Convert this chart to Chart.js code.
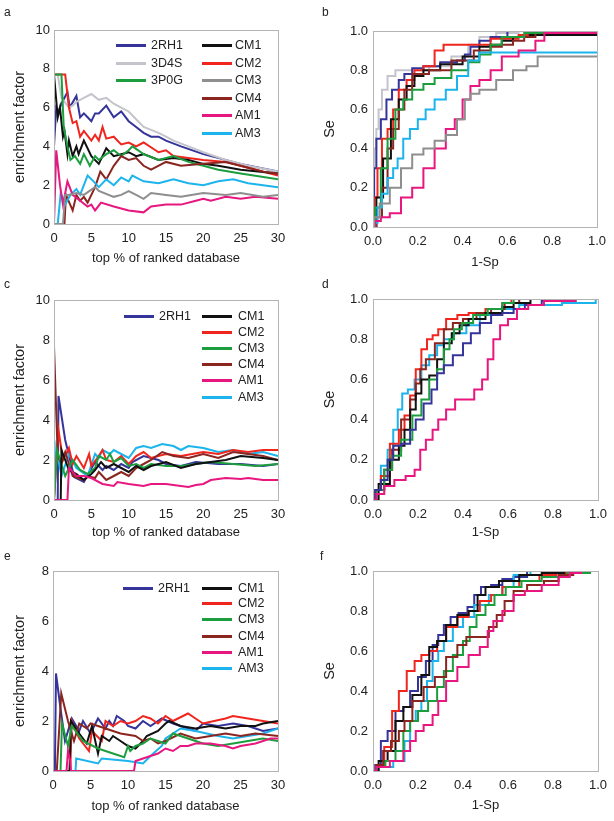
<!DOCTYPE html>
<html>
<head>
<meta charset="utf-8">
<script src="https://cdn.jsdelivr.net/npm/chart.js@4/dist/chart.umd.min.js"></script>
<style>
  body { margin: 0; background: #fff; font-family: 'Liberation Sans', Arial, sans-serif; }
  #fig { position: relative; width: 614px; height: 821px; overflow: hidden; }
  canvas { position: absolute; }
  .lbl { position: absolute; font-size: 12px; color: #222; }
  .leg { position: absolute; font-size: 12.5px; color: #222; line-height: 14px; white-space: nowrap; }
  .sw { position: absolute; height: 3px; }
</style>
</head>
<body>
<div id="fig">
  <canvas id="ca" width="300" height="270" style="left:0;top:0"></canvas>
  <canvas id="cb" width="314" height="270" style="left:300px;top:0"></canvas>
  <canvas id="cc" width="300" height="270" style="left:0;top:270px"></canvas>
  <canvas id="cd" width="314" height="270" style="left:300px;top:270px"></canvas>
  <canvas id="ce" width="300" height="281" style="left:0;top:540px"></canvas>
  <canvas id="cf" width="314" height="281" style="left:300px;top:540px"></canvas>
  <div class="lbl" style="left:4px;top:5px">a</div>
  <div class="lbl" style="left:322px;top:5px">b</div>
  <div class="lbl" style="left:4px;top:277px">c</div>
  <div class="lbl" style="left:322px;top:277px">d</div>
  <div class="lbl" style="left:4px;top:549px">e</div>
  <div class="lbl" style="left:320px;top:549px">f</div>
</div>
<script>
// series colours (panels c-f draw CM3 in green)
const COLORS = {
  '2RH1': '#34349a', '3D4S': '#c4c4cc', '3P0G': '#1c9e3f', 'CM1': '#111111',
  'CM2': '#f0261e', 'CM3': '#8e8e8e', 'CM4': '#8b2520', 'AM1': '#e8177f', 'AM3': '#1bb4ec'
};
const COLORS_LOWER = Object.assign({}, COLORS, { 'CM3': '#1c9e3f' });

// tick labels
const EF_TICKS_X = [0, 5, 10, 15, 20, 25, 30];
const EF_TICKS_Y10 = [0, 2, 4, 6, 8, 10];
const EF_TICKS_Y8 = [0, 2, 4, 6, 8];
const ROC_TICKS = [0, 0.2, 0.4, 0.6, 0.8, 1.0];

// panel a: enrichment factor, top % of ranked database
const A_2RH1 = [[0,4],[0.3,6],[0.6,5.8],[1,6.2],[1.8,6.8],[2.1,6],[3,6.6],[3.5,5.5],[4,5.7],[4.5,5.5],[5,5.3],[5.5,5.7],[6,5.7],[7,6.1],[8,5.5],[9,5.8],[10,5.3],[11,5],[12,4.7],[13,4.5],[14,4.5],[15,4.3],[17,4],[20,3.6],[25,3.1],[30,2.7]];
const A_3D4S = [[0,7.7],[0.5,7.7],[1,6.5],[2,6],[2.5,6.1],[3,6.3],[4,6.5],[5,6.7],[6,6.4],[7,6.5],[8,6.2],[9,6],[10,5.8],[11,5.4],[12,5],[14,4.7],[15,4.5],[16,4.3],[18,4],[20,3.7],[23,3.3],[26,3],[30,2.7]];
const A_3P0G = [[0,7.7],[1,7.7],[1.3,5],[1.8,4],[2.2,3.3],[2.8,3.5],[3.5,3.1],[4,3.6],[4.8,3],[5.5,3.5],[6,3.3],[7,3.6],[8,3.8],[9,3.5],[10,3.8],[10.5,4],[12,3.6],[14,3.3],[16,3.5],[18,3.2],[20,3],[22,2.8],[25,2.6],[30,2.3]];
const A_CM1 = [[0,7.7],[0.5,5.5],[0.8,6],[1.2,4.5],[1.4,4.8],[1.8,3.6],[2,4.3],[2.5,3.5],[3,4],[3.3,3.6],[4,4.3],[5,3.5],[6,3.1],[7,3.9],[8,3.5],[9,3.6],[10,3.7],[11,3.5],[12,3.6],[14,3.3],[16,3.4],[18,3.3],[20,3.1],[22,3],[25,2.8],[30,2.6]];
const A_CM2 = [[0,7.7],[1.5,7.7],[2,6],[2.5,5.2],[3,5.3],[3.5,4.5],[4,4.8],[5,4.3],[5.5,4.6],[6,4.3],[6.5,5],[7,4.4],[8,4.5],[9,4.1],[10,4.2],[11,4],[12,4.2],[14,3.7],[15,3.8],[16,3.5],[18,3.4],[20,3.3],[23,3.2],[25,3],[30,2.5]];
const A_CM3 = [[0,0],[1.2,0],[1.5,1.5],[2,1.5],[3,1.6],[4,1.5],[5.5,1.9],[6,1.7],[8,1.4],[9,1.5],[10,1.7],[11,1.5],[12,1.3],[13,1.6],[15,1.5],[17,1.4],[20,1.6],[23,1.5],[25,1.6],[28,1.4],[30,1.5]];
const A_CM4 = [[0,0],[1.4,0],[1.6,1.5],[2.5,0.7],[3,1.5],[3.5,1.2],[4,1.4],[4.5,1.1],[5.5,1.9],[6.2,2.7],[7,2.3],[8,3],[9,3.5],[10,3.3],[11,3.4],[12,3],[13,2.8],[15,3.2],[17,3],[20,3.1],[23,3.2],[26,2.9],[28,2.7],[30,2.6]];
const A_AM1 = [[0,0],[0.3,3.8],[0.8,2],[1.2,1],[1.8,2.2],[2.5,1.5],[3.5,1.2],[4.5,0.9],[5,1],[5.5,0.7],[6.3,1.1],[8,0.9],[10,0.7],[12,0.6],[13,0.9],[15,1],[17,1],[19,1.2],[20,1.3],[21,1.2],[23,1.4],[25,1.3],[27,1.4],[30,1.3]];
const A_AM3 = [[0,0],[0.5,0],[0.9,1.6],[1.5,1],[2.2,1.5],[3,1.8],[3.5,1.5],[4,2],[4.5,2.5],[5.3,2.2],[6,1.9],[7,2.3],[8,2],[9,2.4],[10,2.2],[10.5,2.5],[12,2.2],[14,2.1],[16,2.3],[18,2.1],[20,2],[22,2.2],[24,2.3],[26,2.1],[28,2],[30,1.9]];

// panel b: ROC, 1-Sp vs Se
const B_2RH1 = [[0,0],[0.01,0.3],[0.02,0.45],[0.05,0.55],[0.07,0.65],[0.1,0.7],[0.13,0.75],[0.15,0.78],[0.2,0.81],[0.25,0.82],[0.35,0.84],[0.4,0.85],[0.42,0.88],[0.45,0.92],[0.5,0.95],[0.55,0.97],[0.65,1],[1,1]];
const B_3D4S = [[0,0],[0.01,0.4],[0.02,0.5],[0.03,0.6],[0.05,0.7],[0.08,0.77],[0.12,0.8],[0.2,0.8],[0.3,0.82],[0.4,0.87],[0.45,0.93],[0.5,0.97],[0.6,0.99],[0.7,1],[1,1]];
const B_3P0G = [[0,0],[0.02,0.1],[0.05,0.3],[0.08,0.45],[0.12,0.6],[0.15,0.65],[0.2,0.7],[0.25,0.73],[0.3,0.76],[0.4,0.8],[0.45,0.84],[0.5,0.88],[0.55,0.93],[0.6,0.97],[0.75,0.99],[1,1]];
const B_CM1 = [[0,0],[0.03,0.15],[0.06,0.35],[0.1,0.55],[0.13,0.65],[0.17,0.72],[0.2,0.77],[0.25,0.8],[0.35,0.83],[0.45,0.87],[0.5,0.92],[0.55,0.93],[0.6,0.95],[0.65,0.97],[0.75,0.98],[1,0.98]];
const B_CM2 = [[0,0],[0.01,0.15],[0.03,0.3],[0.05,0.45],[0.08,0.5],[0.1,0.6],[0.13,0.7],[0.17,0.75],[0.2,0.8],[0.25,0.82],[0.3,0.9],[0.33,0.93],[0.45,0.93],[0.6,0.96],[0.7,0.98],[1,0.98]];
const B_CM3 = [[0,0],[0.01,0.05],[0.05,0.12],[0.1,0.2],[0.15,0.3],[0.2,0.37],[0.25,0.4],[0.3,0.44],[0.35,0.47],[0.4,0.55],[0.42,0.65],[0.45,0.68],[0.5,0.7],[0.6,0.75],[0.65,0.8],[0.72,0.82],[0.75,0.87],[1,0.87]];
const B_CM4 = [[0,0],[0.03,0.05],[0.05,0.2],[0.08,0.4],[0.1,0.5],[0.13,0.6],[0.15,0.7],[0.2,0.78],[0.3,0.8],[0.4,0.85],[0.5,0.9],[0.55,0.92],[0.6,0.93],[0.65,0.95],[0.7,0.97],[0.75,0.99],[1,0.99]];
const B_AM1 = [[0,0],[0.02,0.03],[0.05,0.05],[0.1,0.07],[0.15,0.15],[0.2,0.2],[0.25,0.3],[0.3,0.4],[0.35,0.5],[0.38,0.55],[0.42,0.65],[0.45,0.72],[0.5,0.75],[0.55,0.8],[0.6,0.87],[0.7,0.9],[0.75,0.95],[0.78,0.99],[1,0.99]];
const B_AM3 = [[0,0],[0.01,0.02],[0.03,0.1],[0.05,0.17],[0.08,0.25],[0.1,0.3],[0.12,0.35],[0.15,0.45],[0.18,0.5],[0.22,0.55],[0.25,0.6],[0.3,0.65],[0.35,0.7],[0.4,0.77],[0.45,0.85],[0.5,0.89],[1,0.89]];

// panel c
const C_2RH1 = [[0,0],[0.5,0],[0.6,5.2],[1.5,3],[2.7,1.15],[4,0.9],[5.5,1.9],[6.5,1.5],[7,1.7],[8,1.5],[9,1.8],[10,1.6],[10.5,1.9],[12,2.2],[14,2],[15,1.8],[17,1.7],[19,1.9],[22,1.8],[25,1.8],[28,1.7],[30,1.8]];
const C_CM1 = [[0,0],[0.9,0],[1,2.5],[2,1.5],[3,1.3],[4,1],[5,1.3],[5.5,1.5],[6.3,1.9],[7,1.6],[8,1.8],[10,1.4],[11,1.7],[12,1.5],[13,1.7],[15,1.9],[17,1.6],[19,1.8],[21,1.9],[23,2],[25,2.2],[28,2.1],[30,2]];
const C_CM2 = [[0,0],[0.6,3.5],[1.2,2],[2,2.6],[2.5,1.8],[3,2.2],[4,1.6],[4.7,2.3],[5,1.7],[6,2.2],[6.5,2.5],[7,2],[8,1.9],[9,2.2],[10,1.8],[11,2.2],[12,2.4],[13,2.1],[15,2.3],[17,2.2],[20,2.4],[22,2.3],[24,2.5],[26,2.4],[28,2.5],[30,2.5]];
const C_CM3 = [[0,0],[0.4,2.5],[1.5,1.2],[2.5,2],[3.5,1.5],[4.5,1.3],[5.5,1.6],[6,2.2],[7,2],[7.5,2.3],[8,1.9],[9,2.1],[10,1.7],[11,1.8],[12,1.6],[13,1.8],[15,1.7],[17,1.7],[19,1.8],[21,1.9],[24,1.8],[27,1.7],[30,1.8]];
const C_CM4 = [[0,7.7],[0.5,2.2],[1,1.8],[1.5,2.4],[2.5,1.2],[4,1],[4.5,1.2],[5.5,1.1],[6,1.4],[7,1],[8,1.2],[9,1.4],[10,1.2],[11,1.6],[12,1.8],[13,2],[14.5,2.4],[16,2.2],[18,2.1],[20,2.3],[22,2.1],[24,2.4],[26,2.3],[28,2.2],[30,2]];
const C_AM1 = [[0,0],[1.8,0],[2,1.6],[3,1.2],[4,1.2],[5,1.1],[6.5,0.8],[8,0.7],[8.5,0.9],[10,0.8],[12,0.7],[13,0.8],[15,0.8],[17,0.7],[18,0.65],[19,0.75],[20,0.8],[21,1],[23,1.1],[25,1.05],[26,1.1],[28,1],[30,1]];
const C_AM3 = [[0,0],[0.3,2.6],[1,1.2],[2,2.3],[3,1.6],[4.5,1.2],[5.5,2.3],[6,2.1],[6.5,2.5],[7.5,2.3],[8,2.5],[9,2.3],[10,2.1],[11,2.6],[12,2.7],[13,2.6],[14.5,2.8],[16,2.7],[17,2.5],[18,2.7],[20,2.6],[22,2.4],[24,2.5],[26,2.3],[28,2.4],[30,2.2]];

// panel d
const D_2RH1 = [[0,0],[0.02,0.05],[0.05,0.1],[0.08,0.2],[0.1,0.27],[0.15,0.28],[0.18,0.35],[0.2,0.4],[0.25,0.48],[0.27,0.55],[0.3,0.63],[0.33,0.67],[0.38,0.72],[0.42,0.78],[0.45,0.83],[0.5,0.88],[0.55,0.92],[0.6,0.93],[0.65,0.95],[0.7,0.97],[0.8,0.99],[1,1]];
const D_CM1 = [[0,0],[0.05,0.08],[0.1,0.2],[0.13,0.27],[0.15,0.35],[0.18,0.45],[0.2,0.53],[0.23,0.6],[0.27,0.62],[0.3,0.7],[0.33,0.78],[0.37,0.83],[0.4,0.87],[0.45,0.9],[0.55,0.93],[0.6,0.96],[0.65,0.98],[0.75,1],[1,1]];
const D_CM2 = [[0,0],[0.02,0.05],[0.05,0.12],[0.1,0.28],[0.13,0.35],[0.15,0.42],[0.18,0.52],[0.2,0.65],[0.23,0.75],[0.25,0.8],[0.28,0.82],[0.3,0.85],[0.35,0.9],[0.4,0.92],[0.45,0.93],[0.55,0.95],[0.6,0.98],[0.63,1],[1,1]];
const D_CM3 = [[0,0],[0.03,0.05],[0.07,0.15],[0.1,0.22],[0.15,0.3],[0.2,0.42],[0.23,0.5],[0.27,0.6],[0.3,0.65],[0.33,0.75],[0.35,0.8],[0.37,0.85],[0.42,0.88],[0.47,0.92],[0.55,0.95],[0.6,0.98],[0.65,1],[1,1]];
const D_CM4 = [[0,0],[0.03,0.05],[0.07,0.15],[0.1,0.25],[0.15,0.4],[0.18,0.5],[0.2,0.58],[0.22,0.65],[0.25,0.7],[0.3,0.78],[0.33,0.85],[0.38,0.88],[0.42,0.9],[0.5,0.93],[0.55,0.95],[0.62,0.98],[0.68,1],[1,1]];
const D_AM1 = [[0,0],[0.03,0.03],[0.07,0.07],[0.12,0.1],[0.17,0.12],[0.2,0.15],[0.22,0.25],[0.25,0.3],[0.28,0.35],[0.3,0.4],[0.35,0.45],[0.38,0.5],[0.43,0.5],[0.47,0.55],[0.5,0.6],[0.52,0.7],[0.55,0.8],[0.58,0.87],[0.62,0.9],[0.66,0.95],[0.72,0.97],[0.8,0.99],[1,1]];
const D_AM3 = [[0,0],[0.02,0.05],[0.05,0.17],[0.08,0.25],[0.1,0.35],[0.12,0.45],[0.14,0.53],[0.17,0.55],[0.2,0.6],[0.23,0.67],[0.27,0.72],[0.3,0.77],[0.33,0.8],[0.38,0.83],[0.45,0.87],[0.5,0.92],[0.55,0.93],[0.6,0.95],[0.7,0.97],[0.98,0.98],[1,1]];

// panel e
const E_2RH1 = [[0,0],[0.25,0],[0.4,3.9],[1,2.5],[1.6,1.2],[2.5,2.1],[3.5,1.6],[4,2],[5,1.5],[6,2.1],[7,1.7],[7.5,2],[8,1.8],[8.5,2.2],[9.5,2],[10,1.8],[11,1.7],[12,2],[13,1.8],[14.5,2.1],[16,1.9],[18,1.7],[19,1.6],[20,1.9],[22,1.8],[24,1.9],[26,1.8],[27,1.7],[28,1.6],[30,1.7]];
const E_CM1 = [[0,0],[2.2,0],[2.4,2],[3.5,1.5],[4.5,1.1],[5.2,1.8],[6,0.7],[6.5,1.4],[7.5,1.2],[8,1.4],[9,1.2],[10,1],[11,0.9],[12,1.2],[12.5,1.4],[14,1.6],[15,1.9],[15.5,2],[17,1.8],[19,1.7],[21,1.8],[23,1.7],[25,1.8],[27,1.8],[28,1.9],[30,2]];
const E_CM2 = [[0,0],[2.3,0],[2.5,2],[3.5,1.3],[4.8,0.8],[5.2,1.6],[6.5,1.2],[7,2],[8,1.8],[9,2],[10,1.9],[11,2],[12,2.2],[13,2.1],[14,1.9],[15,2.2],[16,2],[18,2.3],[19,2.1],[20,1.9],[23,2.1],[24,2.2],[26,2.1],[28,2],[30,1.9]];
const E_CM3 = [[0,0],[1,0],[1.2,1.9],[2,1],[2.5,1.8],[4,1.2],[6,0.9],[8,0.7],[9.5,0.55],[10,1],[10.3,0.8],[11,1],[12,1.1],[13,1.3],[14,1.2],[15,1.1],[16,1.5],[18,1.3],[20,1.1],[22,1],[24,1.1],[26,1.2],[28,1.3],[30,1.2]];
const E_CM4 = [[0,0],[0.5,0],[1.1,3.1],[2,2],[2.8,1.2],[3.5,1.9],[4.5,1.7],[5,1.9],[6,1.8],[7,1.7],[9,1.5],[11,1.4],[12,1.2],[13,1.3],[14,1.1],[15,1.2],[17,1.5],[19,1.3],[21,1.4],[23,1.5],[25,1.4],[27,1.5],[30,1.4]];
const E_AM1 = [[0,0],[1.8,0],[2,0.8],[2.3,0.4],[2.4,0],[10.8,0],[11,0.4],[12,0.5],[13,0.6],[14,0.7],[15,0.9],[16,0.8],[17,1],[18,1],[19,1.1],[21,1.1],[23,1],[24,0.9],[25,1],[27,1.1],[29,1.3],[30,1.3]];
const E_AM3 = [[0,0],[3,0],[3.1,0.5],[6,0.3],[6.5,0.5],[10,0.4],[12,0.3],[13,0.6],[14.5,1],[15,1.3],[16,1.5],[17,1.7],[19,1.6],[22,1.4],[24,1.3],[26,1.4],[28,1.5],[30,1.7]];

// panel f
const F_2RH1 = [[0,0],[0.02,0.03],[0.05,0.15],[0.08,0.2],[0.12,0.3],[0.15,0.32],[0.18,0.4],[0.22,0.47],[0.25,0.55],[0.28,0.63],[0.3,0.68],[0.33,0.73],[0.36,0.77],[0.4,0.79],[0.44,0.82],[0.46,0.88],[0.5,0.92],[0.55,0.93],[0.6,0.96],[0.65,0.97],[0.72,1],[1,1]];
const F_CM1 = [[0,0],[0.05,0.05],[0.08,0.1],[0.12,0.25],[0.15,0.32],[0.2,0.38],[0.23,0.48],[0.27,0.62],[0.3,0.65],[0.35,0.73],[0.4,0.78],[0.45,0.8],[0.48,0.88],[0.52,0.92],[0.6,0.95],[0.7,0.98],[0.8,0.99],[0.9,1],[1,1]];
const F_CM2 = [[0,0],[0.03,0.03],[0.07,0.12],[0.1,0.3],[0.13,0.4],[0.17,0.5],[0.2,0.55],[0.23,0.58],[0.27,0.6],[0.3,0.65],[0.35,0.72],[0.4,0.77],[0.45,0.8],[0.5,0.85],[0.55,0.88],[0.6,0.92],[0.7,0.95],[0.78,0.98],[0.85,0.99],[0.92,1],[1,1]];
const F_CM3 = [[0,0],[0.03,0.02],[0.08,0.05],[0.12,0.1],[0.15,0.2],[0.18,0.25],[0.22,0.3],[0.27,0.35],[0.3,0.42],[0.33,0.5],[0.38,0.58],[0.42,0.65],[0.44,0.72],[0.48,0.78],[0.52,0.83],[0.56,0.88],[0.62,0.92],[0.7,0.95],[0.8,0.97],[0.93,0.99],[1,1]];
const F_CM4 = [[0,0],[0.03,0.03],[0.06,0.1],[0.1,0.15],[0.13,0.2],[0.15,0.25],[0.2,0.35],[0.25,0.42],[0.3,0.47],[0.35,0.57],[0.4,0.63],[0.43,0.67],[0.5,0.67],[0.53,0.72],[0.57,0.78],[0.6,0.85],[0.65,0.9],[0.72,0.93],[0.8,0.95],[0.85,0.98],[0.93,1],[1,1]];
const F_AM1 = [[0,0],[0.03,0.02],[0.12,0.05],[0.15,0.1],[0.18,0.15],[0.2,0.2],[0.25,0.23],[0.28,0.28],[0.3,0.35],[0.35,0.45],[0.4,0.52],[0.45,0.58],[0.5,0.62],[0.52,0.7],[0.55,0.75],[0.6,0.8],[0.65,0.88],[0.7,0.9],[0.8,0.93],[0.85,0.97],[0.9,0.99],[0.95,1],[1,1]];
const F_AM3 = [[0,0],[0.05,0.02],[0.13,0.05],[0.15,0.15],[0.18,0.25],[0.2,0.3],[0.23,0.35],[0.25,0.45],[0.28,0.55],[0.3,0.6],[0.33,0.65],[0.38,0.72],[0.42,0.77],[0.48,0.83],[0.55,0.88],[0.6,0.92],[0.65,0.98],[0.75,1],[1,1]];

const FONT_FAMILY = "'Liberation Sans', Arial, sans-serif";

// light gray frame round the plot area
const framePlugin = {
  id: 'frame',
  afterDraw(chart) {
    const { ctx, chartArea: a } = chart;
    ctx.save();
    ctx.strokeStyle = '#b4b4b4';
    ctx.lineWidth = 1;
    ctx.strokeRect(Math.round(a.left) + 0.5, Math.round(a.top) + 0.5, Math.round(a.right - a.left), Math.round(a.bottom - a.top));
    ctx.restore();
  }
};

function makePanel(id, series, colors, o) {
  const canvas = document.getElementById(id);
  const W = canvas.width, H = canvas.height;
  const datasets = series.map(([name, pts]) => ({
    label: name,
    data: pts.map(([x, y]) => ({ x, y })),
    borderColor: colors[name],
    backgroundColor: colors[name],
    borderWidth: 2,
    pointRadius: 0,
    tension: 0,
    stepped: o.stepped || false
  }));
  const tickFont = { family: FONT_FAMILY, size: 13 };
  const fmt = (v) => o.decimals ? v.toFixed(1) : String(v);
  new Chart(canvas, {
    type: 'line',
    data: { datasets },
    options: {
      responsive: false,
      animation: false,
      layout: { padding: { left: 0, top: o.top, right: W - o.right, bottom: 0 } },
      plugins: { legend: { display: false }, tooltip: { enabled: false } },
      scales: {
        x: {
          type: 'linear', min: 0, max: o.xMax,
          afterBuildTicks: (s) => { s.ticks = o.xTicks.map(v => ({ value: v })); },
          afterFit: (s) => { s.height = H - o.bottom; },
          grid: { display: false, drawTicks: false },
          border: { display: false },
          ticks: { font: tickFont, color: '#222', padding: 7, maxRotation: 0, callback: fmt },
          title: { display: true, text: o.xTitle, font: { family: FONT_FAMILY, size: 13 }, color: '#222',
                   padding: { top: 0, bottom: o.xTitlePad } }
        },
        y: {
          type: 'linear', min: 0, max: o.yMax,
          afterBuildTicks: (s) => { s.ticks = o.yTicks.map(v => ({ value: v })); },
          afterFit: (s) => { s.width = o.left; },
          grid: { display: false, drawTicks: false },
          border: { display: false },
          ticks: { font: tickFont, color: '#222', padding: o.yPad, callback: fmt },
          title: { display: true, text: o.yTitle, font: { family: FONT_FAMILY, size: 14.5 }, color: '#222',
                   padding: { top: o.yTitlePad, bottom: 0 } }
        }
      }
    },
    plugins: [framePlugin]
  });
}

// html legends: two columns, line sample then label
function makeLegend(col1, col2, colors, pos) {
  const fig = document.getElementById('fig');
  const put = (name, lineX, textX, y) => {
    const sw = document.createElement('div');
    sw.className = 'sw';
    sw.style.cssText = `left:${lineX}px;top:${y - 1.5}px;width:${pos.lineW}px;background:${colors[name]}`;
    fig.appendChild(sw);
    const t = document.createElement('div');
    t.className = 'leg';
    t.textContent = name;
    t.style.left = textX + 'px';
    t.style.top = (y - 7) + 'px';
    fig.appendChild(t);
  };
  col1.forEach((n, i) => put(n, pos.x1, pos.t1, pos.rows[i]));
  col2.forEach((n, i) => put(n, pos.x2, pos.t2, pos.rows[i]));
}

const EF_A = { xMax: 30, yMax: 10, xTicks: EF_TICKS_X, yTicks: EF_TICKS_Y10, left: 54, right: 278, top: 30, bottom: 224,
  xTitle: 'top % of ranked database', yTitle: 'enrichment factor', xTitlePad: 4, yTitlePad: 11, yPad: 4 };
const ROC_B = { xMax: 1, yMax: 1, xTicks: ROC_TICKS, yTicks: ROC_TICKS, left: 73, right: 297, top: 31, bottom: 227, decimals: true,
  xTitle: '1-Sp', yTitle: 'Se', xTitlePad: 0, yTitlePad: 21, yPad: 5, stepped: 'middle' };

makePanel('ca', [['CM3', A_CM3], ['AM1', A_AM1], ['AM3', A_AM3], ['CM4', A_CM4], ['3P0G', A_3P0G], ['CM1', A_CM1],
  ['CM2', A_CM2], ['3D4S', A_3D4S], ['2RH1', A_2RH1]], COLORS, EF_A);

makePanel('cb', [['CM3', B_CM3], ['AM1', B_AM1], ['AM3', B_AM3], ['3P0G', B_3P0G], ['CM4', B_CM4], ['CM1', B_CM1],
  ['CM2', B_CM2], ['2RH1', B_2RH1], ['3D4S', B_3D4S]], COLORS, ROC_B);

makePanel('cc', [['AM1', C_AM1], ['CM1', C_CM1], ['CM3', C_CM3], ['CM4', C_CM4], ['CM2', C_CM2], ['AM3', C_AM3], ['2RH1', C_2RH1]],
  COLORS_LOWER, Object.assign({}, EF_A, { bottom: 230, xTitlePad: 0 }));

makePanel('cd', [['AM1', D_AM1], ['2RH1', D_2RH1], ['CM3', D_CM3], ['CM1', D_CM1], ['CM4', D_CM4], ['CM2', D_CM2], ['AM3', D_AM3]],
  COLORS_LOWER, Object.assign({}, ROC_B, { right: 298, top: 29, bottom: 230 }));

makePanel('ce', [['AM1', E_AM1], ['CM3', E_CM3], ['CM4', E_CM4], ['CM1', E_CM1], ['AM3', E_AM3], ['CM2', E_CM2], ['2RH1', E_2RH1]],
  COLORS_LOWER, Object.assign({}, EF_A, { yMax: 8, yTicks: EF_TICKS_Y8, left: 53, top: 31, bottom: 231, xTitlePad: 7 }));

makePanel('cf', [['AM1', F_AM1], ['CM4', F_CM4], ['CM3', F_CM3], ['CM1', F_CM1], ['CM2', F_CM2], ['AM3', F_AM3], ['2RH1', F_2RH1]],
  COLORS_LOWER, Object.assign({}, ROC_B, { right: 298, top: 31, bottom: 231, xTitlePad: 8 }));

makeLegend(['2RH1', '3D4S', '3P0G'], ['CM1', 'CM2', 'CM3', 'CM4', 'AM1', 'AM3'], COLORS,
  { x1: 116, t1: 151, x2: 202, t2: 235, lineW: 30, rows: [45, 63, 80, 98, 115, 133] });
makeLegend(['2RH1'], ['CM1', 'CM2', 'CM3', 'CM4', 'AM1', 'AM3'], COLORS_LOWER,
  { x1: 124, t1: 159, x2: 202, t2: 238, lineW: 30, rows: [316, 332, 348, 364, 380, 397] });
makeLegend(['2RH1'], ['CM1', 'CM2', 'CM3', 'CM4', 'AM1', 'AM3'], COLORS_LOWER,
  { x1: 123, t1: 158, x2: 202, t2: 238, lineW: 30, rows: [588, 603, 619, 636, 652, 668] });
</script>
</body>
</html>
